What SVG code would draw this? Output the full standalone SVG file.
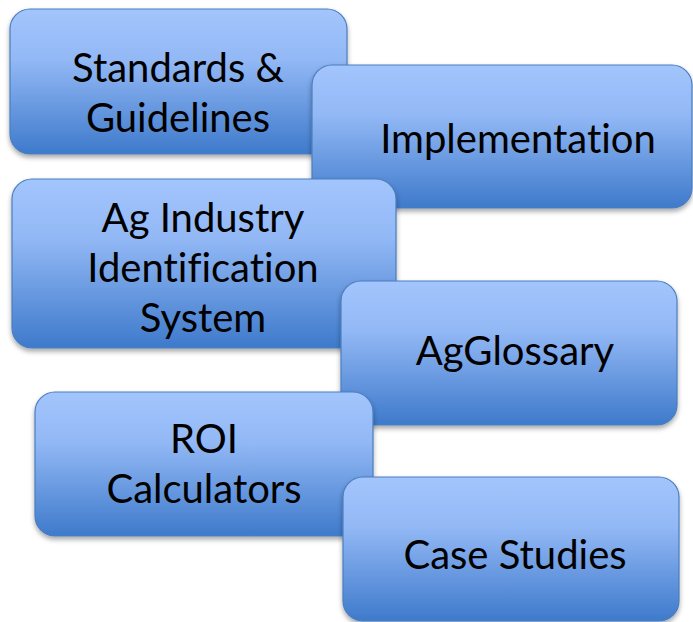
<svg xmlns="http://www.w3.org/2000/svg" width="693" height="622" viewBox="0 0 693 622">
<defs>
<linearGradient id="g" x1="0" y1="0" x2="0" y2="1">
<stop offset="0" stop-color="#a3c5fd"/>
<stop offset="0.35" stop-color="#92b8f5"/>
<stop offset="1" stop-color="#3e7acb"/>
</linearGradient>
<filter id="sh" x="-10%" y="-10%" width="120%" height="130%">
<feDropShadow dx="0" dy="3" stdDeviation="2.5" flood-color="#000" flood-opacity="0.35"/>
</filter>
</defs>
<style>
.box{fill:url(#g);stroke:#4a7ebf;stroke-width:1.2;filter:url(#sh)}
.t{font-family:Lato,"Open Sans","Liberation Sans",sans-serif;font-size:40px;fill:#000;text-anchor:middle;font-variant-ligatures:none;font-feature-settings:"liga" 0}
</style>
<rect width="693" height="622" fill="#fff"/>
<g id="standards">
<rect class="box" x="10" y="9" width="337" height="145" rx="20"/>
<text class="t" x="178" y="82">Standards &amp;</text>
<text class="t" x="178" y="132">Guidelines</text>
</g>
<g id="implementation">
<rect class="box" x="312" y="65" width="380" height="143" rx="20"/>
<text class="t" x="518" y="153">Implementation</text>
</g>
<g id="ag-industry">
<rect class="box" x="12" y="179" width="384" height="169" rx="20"/>
<text class="t" x="203" y="232">Ag Industry</text>
<text class="t" x="203" y="282">Identification</text>
<text class="t" x="203" y="332">System</text>
</g>
<g id="agglossary">
<rect class="box" x="341" y="281" width="336" height="144" rx="20"/>
<text class="t" x="515" y="365">AgGlossary</text>
</g>
<g id="roi">
<rect class="box" x="35" y="392" width="338" height="144" rx="20"/>
<text class="t" x="204" y="453">ROI</text>
<text class="t" x="204" y="503">Calculators</text>
</g>
<g id="case-studies">
<rect class="box" x="343" y="477" width="336" height="144" rx="20"/>
<text class="t" x="515" y="569">Case Studies</text>
</g>
<g id="connectors"></g>
</svg>
